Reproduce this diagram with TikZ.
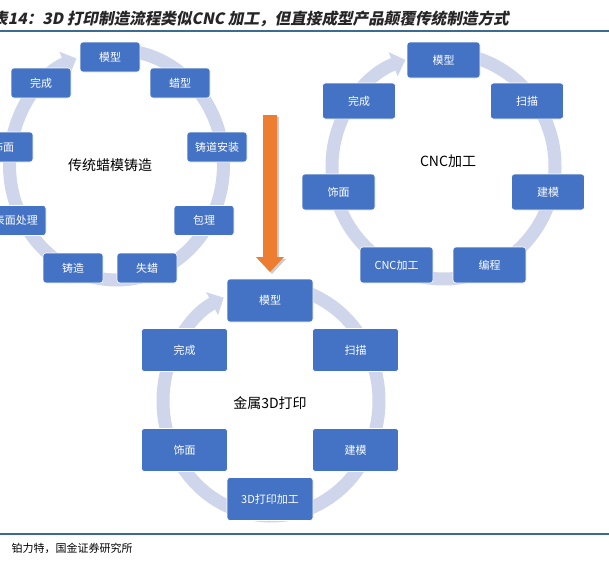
\documentclass[tikz,border=0pt]{standalone}
\usepackage{fontspec}
\setmainfont{Noto Sans CJK SC}
\newfontfamily\titlefont[FakeSlant=0.2]{Noto Sans CJK SC}
\usetikzlibrary{arrows.meta}
\definecolor{boxblue}{HTML}{4472C4}
\definecolor{ringgray}{HTML}{CFD5EA}
\definecolor{rulebar}{HTML}{3B6B8F}
\definecolor{flowarrow}{HTML}{ED7D31}

\begin{document}
\begin{tikzpicture}[x=1pt, y=-1pt,
    every node/.style={font=\fontsize{11}{13}\selectfont},
    stepbox/.style={draw=white, line width=0.6pt, fill=boxblue,
      text=white, rounded corners=3pt, inner sep=0pt},
    smallbox/.style={stepbox, minimum width=60pt, minimum height=30pt},
    midbox/.style={stepbox, minimum width=73pt, minimum height=36pt},
    bigbox/.style={stepbox, minimum width=86pt, minimum height=43pt},
    ringarc/.style={draw=ringgray, line width=13pt,
      -{Triangle[length=13pt,width=25pt]}},
    hubtext/.style={font=\fontsize{14}{16}\selectfont, text=black}]
  % Page frame: coordinates are pixels, y grows downwards
  \useasboundingbox (0,0) rectangle (609,568);

  % Title and rules
  \node[anchor=base west, text=black!85, inner sep=0pt,
        font=\titlefont\bfseries\fontsize{15.6}{17}\selectfont]
    (title) at (-8,24) {表14：3D 打印制造流程类似CNC 加工，但直接成型产品颠覆传统制造方式};
  \draw[rulebar, line width=2pt] (0,31) -- (609,31);
  \draw[rulebar, line width=2pt] (0,534) -- (609,534);
  \node[anchor=west] (src) at (8,548) {铂力特，国金证券研究所};

  % Cycle rings (drawn first, boxes sit on top)
  \draw[ringarc] (116.5,165) ++(-85:107 and 115)
    arc[start angle=-85, end angle=248, x radius=107, y radius=115];
  \draw[ringarc] (443.5,166) ++(-80:111.5 and 113)
    arc[start angle=-80, end angle=250, x radius=111.5, y radius=113];
  \draw[ringarc] (271,401) ++(-80:108 and 115)
    arc[start angle=-80, end angle=244, x radius=108, y radius=115];

  % Lost-wax casting cycle
  \foreach \nm/\px/\py/\txt in {1/110/57/模型, 2/180/83/蜡型, 3/217/147/铸道安装,
      4/204/220.5/包理, 5/147/268/失蜡, 6/73/268/铸造,
      7/16/220.5/表面处理, 8/3/147/饰面, 9/41/83/完成} {
    \node[smallbox] (l\nm) at (\px,\py) {\txt};
  }
  \node[hubtext] (lhub) at (110,165) {传统蜡模铸造};

  % CNC cycle
  \foreach \nm/\px/\py/\txt in {1/443.5/60/模型, 2/527/101/扫描, 3/548/192/建模,
      4/489.5/265/编程, 5/396.5/265/CNC加工, 6/338.5/192/饰面, 7/359/101/完成} {
    \node[midbox] (c\nm) at (\px,\py) {\txt};
  }
  \node[hubtext] (chub) at (448,161) {CNC加工};

  % Metal 3D printing cycle
  \foreach \nm/\px/\py/\txt in {1/270/300.5/模型, 2/355.5/350/扫描, 3/355.5/450/建模,
      4/270/499/3D打印加工, 5/184.5/450/饰面, 6/184.5/350/完成} {
    \node[bigbox] (m\nm) at (\px,\py) {\txt};
  }
  \node[hubtext] (mhub) at (270,403) {金属3D打印};

  % Big down arrow between the cycles
  \fill[black!20] (265,117) -- (279,117) -- (279,259) -- (286,259)
    -- (272,274) -- (258,259) -- (265,259) -- cycle;
  \fill[flowarrow] (263,115) -- (277,115) -- (277,257) -- (284,257)
    -- (270,272) -- (256,257) -- (263,257) -- cycle;
\end{tikzpicture}
\end{document}
